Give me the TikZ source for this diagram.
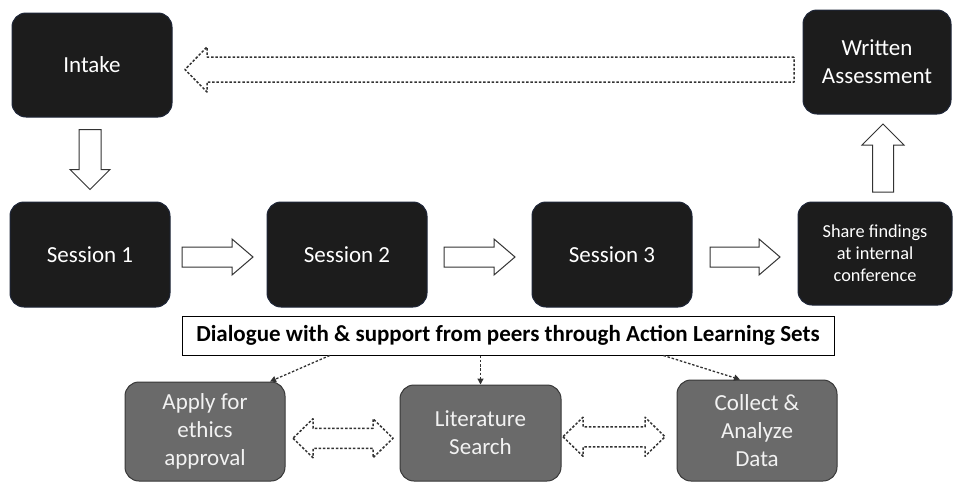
\documentclass[tikz,border=0pt]{standalone}
\usepackage{fontspec}
\setmainfont{Carlito}
\usetikzlibrary{calc,arrows.meta}
\definecolor{boxdark}{HTML}{1C1C1C}
\definecolor{boxedge}{HTML}{1E2638}
\definecolor{boxgray}{HTML}{6A6A6A}
\definecolor{grayedge}{HTML}{383838}
\definecolor{arredge}{HTML}{333333}
\definecolor{graytext}{HTML}{F2F2F2}
% #1 style, #2 centre, #3 angle, #4 length, #5 shaft width, #6 head width, #7 head length
\newcommand{\blockarrow}[7]{%
  \draw[#1,shift={#2},rotate=#3]
    ({-(#4)/2},{(#5)/2}) -- ({(#4)/2-(#7)},{(#5)/2}) -- ({(#4)/2-(#7)},{(#6)/2})
    -- ({(#4)/2},0) -- ({(#4)/2-(#7)},{-(#6)/2}) -- ({(#4)/2-(#7)},{-(#5)/2})
    -- ({-(#4)/2},{-(#5)/2}) -- cycle;}
\newcommand{\dblarrow}[7]{%
  \draw[#1,shift={#2},rotate=#3]
    ({-(#4)/2},0) -- ({-(#4)/2+(#7)},{(#6)/2}) -- ({-(#4)/2+(#7)},{(#5)/2})
    -- ({(#4)/2-(#7)},{(#5)/2}) -- ({(#4)/2-(#7)},{(#6)/2}) -- ({(#4)/2},0)
    -- ({(#4)/2-(#7)},{-(#6)/2}) -- ({(#4)/2-(#7)},{-(#5)/2})
    -- ({-(#4)/2+(#7)},{-(#5)/2}) -- ({-(#4)/2+(#7)},{-(#6)/2}) -- cycle;}
\begin{document}
\begin{tikzpicture}[x=1pt,y=-1pt,
  darkbox/.style={draw=boxedge, line width=1pt, fill=boxdark, rounded corners=14pt,
    text=white, align=center, inner sep=0pt,
    font=\fontsize{23}{28}\selectfont},
  graybox/.style={draw=grayedge, line width=1pt, fill=boxgray, rounded corners=14pt,
    text=graytext, align=center, inner sep=0pt,
    font=\fontsize{23}{28}\selectfont},
  solidarr/.style={draw=arredge, line width=1pt, fill=white, line join=miter},
  dasharr/.style={draw=arredge, line width=1.5pt, dash pattern=on 2.5pt off 1.8pt, fill=none, line join=round},
  dotarr/.style={draw=arredge, line width=1.3pt, dash pattern=on 2.5pt off 1.8pt,
    -{Triangle[length=6pt,width=6pt]}}
]
\useasboundingbox (0,0) rectangle (953,482);
\fill[white] (0,0) rectangle (953,482);

\node[darkbox, minimum width=160pt, minimum height=104pt] (intake) at (92,65) {Intake};
\node[darkbox, minimum width=148pt, minimum height=104pt] (written) at (877,62) {Written\\Assessment};
\node[darkbox, minimum width=160pt, minimum height=105pt] (s1) at (90,254.5) {Session 1};
\node[darkbox, minimum width=160pt, minimum height=105pt] (s2) at (347,254.5) {Session 2};
\node[darkbox, minimum width=160pt, minimum height=105pt] (s3) at (612,254.5) {Session 3};
\node[darkbox, minimum width=154pt, minimum height=103pt,
  font=\fontsize{18.3}{22}\selectfont] (share) at (875,253.5) {Share findings\\at internal\\conference};

\node[draw=black, line width=1pt, fill=white, minimum width=652pt, minimum height=39pt, inner sep=0pt,
  font=\bfseries\fontsize{23}{26}\selectfont] (dlg) at (508,335.5)
  {Dialogue with \& support from peers through Action Learning Sets};

\node[graybox, minimum width=160pt, minimum height=99pt] (apply) at (205,431.5) {Apply for\\ethics\\approval};
\node[graybox, minimum width=161pt, minimum height=96pt] (lit) at (480.5,433) {Literature\\Search};
\node[graybox, minimum width=160pt, minimum height=101pt] (collect) at (757,430.5) {Collect \&\\Analyze\\Data};

% block arrows
\blockarrow{solidarr}{($(intake.south)!0.5!(s1.north)+(-1,0)$)}{-90}{60}{22}{40}{20}
\blockarrow{solidarr}{($(s1.east)!0.5!(s2.west)+(-1,2.5)$)}{0}{71}{20}{36}{21}
\blockarrow{solidarr}{($(s2.east)!0.5!(s3.west)+(0,2.5)$)}{0}{71}{20}{36}{21}
\blockarrow{solidarr}{($(s3.east)!0.5!(share.west)+(0,3)$)}{0}{70}{20}{36}{21}
\blockarrow{solidarr}{($(written.south)!0.5!(share.north)+(7,0)$)}{90}{68}{21}{42}{21}
\blockarrow{dasharr}{($(written.west)!0.5!(intake.east)+(2,6)$)}{180}{609}{25}{45}{22}

% dashed double arrows
\dblarrow{dasharr}{($(apply.east)!0.5!(lit.west)+(0.5,6)$)}{0}{100}{20}{39}{20}
\dblarrow{dasharr}{($(lit.east)!0.5!(collect.west)+(-5,5)$)}{0}{102}{20}{39}{20}

% dotted connectors
\draw[dotarr] ($(dlg.south west)!0.227!(dlg.south east)$) -- ($(apply.north)+(65,0)$);
\draw[dotarr] (dlg.south -| lit.north) -- (lit.north);
\draw[dotarr] ($(dlg.south west)!0.738!(dlg.south east)$) -- ($(collect.north)+(-17,0)$);
\end{tikzpicture}
\end{document}
